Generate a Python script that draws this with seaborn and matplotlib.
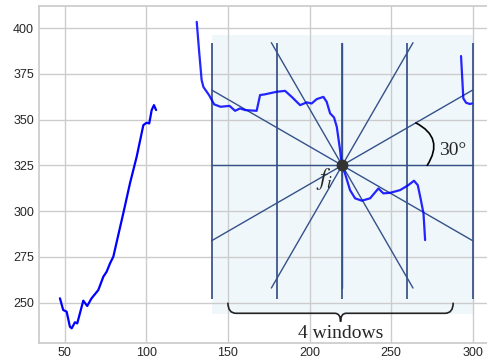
import numpy as np
import matplotlib
matplotlib.use("Agg")
import matplotlib.pyplot as plt
import seaborn as sns
from matplotlib.patches import Rectangle, PathPatch
from matplotlib.path import Path

# curve pieces
seg1_x = [47.1, 49.1, 51.2, 53.2, 54.3, 56.3, 57.7, 61.4, 63.8, 66.5, 70.6, 73.7, 75.7,
          77.8, 79.8, 81.9, 85.9, 90.0, 94.1, 98.2, 100.2, 101.8, 103.3, 104.7, 106.0]
seg1_y = [252.4, 246.0, 245.1, 236.9, 236.0, 239.3, 238.7, 251.1, 248.2, 252.4, 256.9, 264.2, 266.9,
          271.5, 275.1, 283.3, 298.8, 315.2, 329.7, 347.0, 348.3, 347.9, 355.2, 357.9, 355.2]

seg2_x = [130.9, 132.3, 133.9, 135.0, 138.5, 141.6, 145.5, 151.0, 154.4, 157.4, 160.5, 167.6,
          169.7, 172.7, 179.9, 185.0, 189.1, 194.2, 198.3, 201.3, 204.4, 208.5, 210.5, 212.6,
          215.0, 216.7, 218.7, 219.7, 221.7, 224.8, 227.9, 232.0, 237.1, 242.2, 245.2, 249.3,
          255.5, 260.5, 264.0, 266.3, 268.2, 269.8, 270.8]
seg2_y = [403.4, 387.9, 371.6, 367.8, 363.3, 358.3, 357.0, 357.5, 354.8, 356.1, 355.2, 354.8,
          363.4, 363.8, 365.2, 365.7, 362.4, 357.9, 359.4, 358.8, 361.2, 362.4, 359.7, 353.4,
          351.2, 346.0, 333.4, 325.2, 320.6, 311.5, 307.0, 305.7, 307.0, 312.4, 309.7, 310.0,
          311.5, 314.2, 316.6, 314.2, 306.1, 298.8, 284.2]

seg3_x = [292.8, 293.6, 294.2, 295.9, 298.3, 299.4]
seg3_y = [384.7, 371.6, 361.6, 359.2, 358.5, 358.8]

# window sketch
center = (220, 325)
window_edges = [140, 180, 220, 260, 300]
window_low, window_high = 252, 392
ray_angles = [0, 30, 60, 90, 120, 150]
ray_half_height = 67
shade_x = (140, 300)
shade_y = (244, 396)
brace_x = (150, 288)
brace_top, brace_mid, brace_tip = 250, 244.2, 239.6

sns.set_theme(style="whitegrid")
plt.rcParams['font.family'] = ['Liberation Sans', 'DejaVu Sans']
plt.rcParams['mathtext.fontset'] = 'stix'

fig, ax = plt.subplots(figsize=(4.87, 3.58), dpi=100)
fig.subplots_adjust(left=0.08, right=1.004, bottom=0.041, top=0.983)
ax.set_xlim(34.25, 309.9)
ax.set_ylim(227.8, 412)
ax.set_xticks(range(50, 301, 50))
ax.set_yticks(range(250, 401, 25))
ax.tick_params(labelsize=9, length=0)
ax.tick_params(axis='x', pad=2.5)

# pixels per data unit, to draw angles as they look on screen
p0 = ax.transData.transform(center)
sx = ax.transData.transform((center[0] + 1, center[1]))[0] - p0[0]
sy = ax.transData.transform((center[0], center[1] + 1))[1] - p0[1]

ax.add_patch(Rectangle((shade_x[0], shade_y[0]), shade_x[1] - shade_x[0], shade_y[1] - shade_y[0],
                       facecolor='#eff7fb', edgecolor='none', zorder=0.2))

ax.vlines(window_edges, window_low, window_high, colors='#2d4a80', lw=1.2, zorder=2)

half_w = (shade_x[1] - shade_x[0]) / 2
for a in ray_angles:
    c, s = np.cos(np.radians(a)), np.sin(np.radians(a))
    lims = []
    if abs(c) > 1e-9:
        lims.append(half_w * sx / abs(c))
    if abs(s) > 1e-9:
        lims.append(ray_half_height * sy / abs(s))
    t = min(lims)
    dx, dy = t * c / sx, t * s / sy
    ax.plot([center[0] - dx, center[0] + dx], [center[1] - dy, center[1] + dy],
            color='#34518a', lw=1.0, zorder=2)

sns.lineplot(x=seg1_x, y=seg1_y, color='blue', lw=1.6, ax=ax, zorder=3)
sns.lineplot(x=seg2_x, y=seg2_y, color='blue', lw=1.6, alpha=0.85, ax=ax, zorder=3)
sns.lineplot(x=seg3_x, y=seg3_y, color='blue', lw=1.6, alpha=0.85, ax=ax, zorder=3)

ax.plot([center[0]], [center[1]], 'o', color='#333333', ms=7.5, zorder=5)

# 30 degree arc
r_px = 85
pa = (center[0] + r_px / sx, center[1])
pc = (center[0] + r_px * np.cos(np.radians(30)) / sx, center[1] + r_px * np.sin(np.radians(30)) / sy)
ax.annotate('', xy=pc, xytext=pa,
            arrowprops=dict(arrowstyle='-', connectionstyle='arc3,rad=0.55', color='black',
                            lw=1.2, shrinkA=0, shrinkB=0), zorder=4)

serif = ['Liberation Serif', 'DejaVu Serif']
ax.text(279.5, 330.6, '30°', family=serif, fontsize=14, ha='left', va='baseline', zorder=6)
ax.text(208.9, 317.8, '$f_i$', fontsize=17, ha='center', va='center', zorder=6)

# curly brace under the windows
xl, xr = brace_x
xm = (xl + xr) / 2
re, rm = 5, 3.5
verts = [(xl, brace_top), (xl, brace_mid), (xl + re, brace_mid),
         (xm - rm, brace_mid),
         (xm, brace_mid), (xm, brace_tip),
         (xm, brace_mid), (xm + rm, brace_mid),
         (xr - re, brace_mid),
         (xr, brace_mid), (xr, brace_top)]
codes = [Path.MOVETO, Path.CURVE3, Path.CURVE3,
         Path.LINETO,
         Path.CURVE3, Path.CURVE3,
         Path.CURVE3, Path.CURVE3,
         Path.LINETO,
         Path.CURVE3, Path.CURVE3]
ax.add_patch(PathPatch(Path(verts, codes), facecolor='none', edgecolor='#222222', lw=1.2, zorder=4))
ax.text(xm, 230.7, '4 windows', family=serif, fontsize=14, ha='center', va='baseline', zorder=6)

ax.set_xlabel('')
ax.set_ylabel('')
fig.savefig('out.png', dpi=100)
